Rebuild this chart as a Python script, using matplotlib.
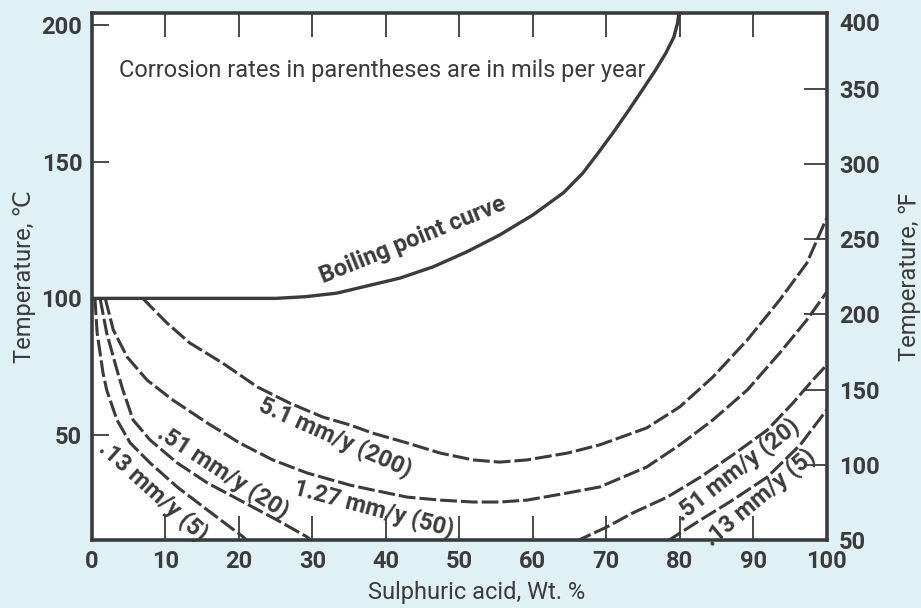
import matplotlib
matplotlib.use("Agg")
import matplotlib.pyplot as plt

BG = "#dff1f4"
INK = "#3b3b3b"

plt.rcParams["font.family"] = ["Roboto", "DejaVu Sans"]

# Boiling point curve (solid)
boil_pct = [0, 25, 29, 33.3, 41.9, 46.4, 51.0, 55.5, 60.0, 64.2, 66.8, 68.9, 70.9,
            72.9, 74.9, 76.7, 78.1, 79.2, 79.7, 79.9]
boil_temp = [100, 100, 100.6, 101.9, 107.4, 111.5, 117.0, 123.2, 130.5, 138.7, 145.8,
             153.2, 160.5, 168.2, 176.2, 183.5, 189.7, 195.6, 200.7, 204.4]

# 5.1 mm/y (200 mpy)
r200_pct = [6.9, 10.2, 13.3, 17.8, 22.5, 26.9, 31.4, 35.1, 38.2, 42.9, 47.4, 51.9, 55.5,
            59.2, 64.7, 69.1, 75.5, 80.0, 84.5, 89.2, 93.6, 97.3, 100]
r200_temp = [100, 91.0, 83.7, 76.3, 67.6, 61.7, 56.6, 53.7, 50.7, 47.1, 43.4, 40.9, 40.1,
             40.9, 43.4, 46.4, 52.6, 60.3, 71.2, 84.8, 99.4, 112.9, 129.4]

# 1.27 mm/y (50 mpy)
r50_pct = [1.8, 2.9, 4.8, 7.5, 11.0, 15.7, 20.1, 24.6, 29.3, 35.1, 38.2, 42.9, 47.4, 51.9,
           55.5, 59.2, 64.7, 69.1, 75.5, 80.0, 84.5, 89.2, 93.6, 97.3, 100]
r50_temp = [100, 88.4, 78.5, 70.1, 62.8, 54.4, 47.1, 40.9, 36.1, 31.7, 29.9, 27.3, 26.2, 25.5,
            25.5, 26.2, 28.8, 31.0, 38.3, 46.4, 55.5, 66.5, 80.0, 92.1, 102.3]

# .51 mm/y (20 mpy), low and high acid branches
r20_lo_pct = [1.1, 2.0, 3.4, 4.2, 5.6, 7.9, 11.6, 15.7, 20.1, 25.2, 29.3, 30.0]
r20_lo_temp = [100, 87.3, 73.8, 66.5, 55.5, 48.2, 39.8, 32.5, 26.2, 18.9, 12.7, 11.0]
r20_hi_pct = [65.8, 70.1, 73.6, 78.3, 82.8, 87.2, 91.9, 95.4, 98.1, 100]
r20_hi_temp = [11.0, 16.4, 21.5, 27.3, 34.6, 42.7, 51.8, 61.7, 70.1, 75.6]

# .13 mm/y (5 mpy), low and high acid branches
r5_lo_pct = [0.4, 0.7, 1.5, 2.0, 3.4, 5.2, 7.9, 11.6, 15.7, 20.6, 21.2]
r5_lo_temp = [100, 87.3, 72.7, 66.5, 55.5, 47.1, 39.8, 31.0, 22.6, 12.7, 11.0]
r5_hi_pct = [78.2, 82.8, 87.2, 91.9, 96.4, 100]
r5_hi_temp = [11.0, 18.9, 26.2, 34.6, 46.4, 59.2]

x_ticks = [0, 10, 20, 30, 40, 50, 60, 70, 80, 90, 100]
c_ticks = [50, 100, 150, 200]
f_ticks = [50, 100, 150, 200, 250, 300, 350, 400]

fig = plt.figure(figsize=(9.21, 6.08), dpi=100, facecolor=BG)
ax = fig.add_axes([0.0999, 0.1118, 0.7977, 0.866])
ax.set_facecolor("white")

dash = dict(color=INK, lw=2.2, dashes=(5.5, 1.3), dash_joinstyle="round")
ax.plot(boil_pct, boil_temp, color=INK, lw=2.4, solid_joinstyle="round")
for xs, ys in [(r200_pct, r200_temp), (r50_pct, r50_temp),
               (r20_lo_pct, r20_lo_temp), (r20_hi_pct, r20_hi_temp),
               (r5_lo_pct, r5_lo_temp), (r5_hi_pct, r5_hi_temp)]:
    ax.plot(xs, ys, **dash)

ax.set_xlim(0, 100)
ax.set_ylim(11.6, 204.2)
ax.set_xticks(x_ticks)
ax.set_xticklabels([str(v) for v in x_ticks])
ax.set_yticks(c_ticks)
ax.set_yticklabels([str(v) for v in c_ticks])

for s in ax.spines.values():
    s.set_linewidth(2.6)
    s.set_color(INK)

ax.tick_params(axis="x", direction="in", length=17, width=1.3, color=INK, top=True,
               pad=7, labelsize=17, labelcolor=INK)
ax.tick_params(axis="y", direction="in", length=12, width=1.3, color=INK,
               pad=7, labelsize=17, labelcolor=INK)
for lab in ax.get_xticklabels() + ax.get_yticklabels():
    lab.set_fontweight("bold")

ax2 = ax.twinx()
ax2.set_ylim(50, 400)
ax2.set_yticks(f_ticks)
ax2.set_yticklabels([str(v) for v in f_ticks])
ax2.tick_params(axis="y", direction="in", length=16.5, width=1.3, color=INK,
                pad=9, labelsize=17, labelcolor=INK)
for lab in ax2.get_yticklabels():
    lab.set_fontweight("bold")
ax2.yaxis.get_major_ticks()[-1].label2.set_va("top")
for s in ax2.spines.values():
    s.set_visible(False)

ax.set_xlabel("Sulphuric acid, Wt. %", fontsize=17, color=INK, labelpad=6)
ax.xaxis.label.set_x(0.524)
ax.set_ylabel("Temperature, \u2103", fontsize=17, color=INK, labelpad=4)
ax2.set_ylabel("Temperature, \u2109", fontsize=17, color=INK, labelpad=13)

ax.text(3.7, 183.5, "Corrosion rates in parentheses are in mils per year",
        fontsize=17, color=INK, ha="left", va="center")

lab_kw = dict(fontsize=17, fontweight="bold", color=INK, ha="center", va="center",
              rotation_mode="anchor")
ax.text(43.7, 121.3, "Boiling point curve", rotation=22, **lab_kw)
ax.text(33.1, 49.2, "5.1 mm/y (200)", rotation=-24, **lab_kw)
ax.text(38.4, 23.0, "1.27 mm/y (50)", rotation=-15, **lab_kw)
ax.text(17.9, 36.6, ".51 mm/y (20)", rotation=-33, **lab_kw)
ax.text(8.4, 29.6, ".13 mm/y (5)", rotation=-42, **lab_kw)
ax.text(87.8, 37.2, ".51 mm/y (20)", rotation=38, **lab_kw)
ax.text(90.9, 27.3, ".13 mm/y (5)", rotation=40, **lab_kw)

fig.savefig("out.png", dpi=100, facecolor=BG)
